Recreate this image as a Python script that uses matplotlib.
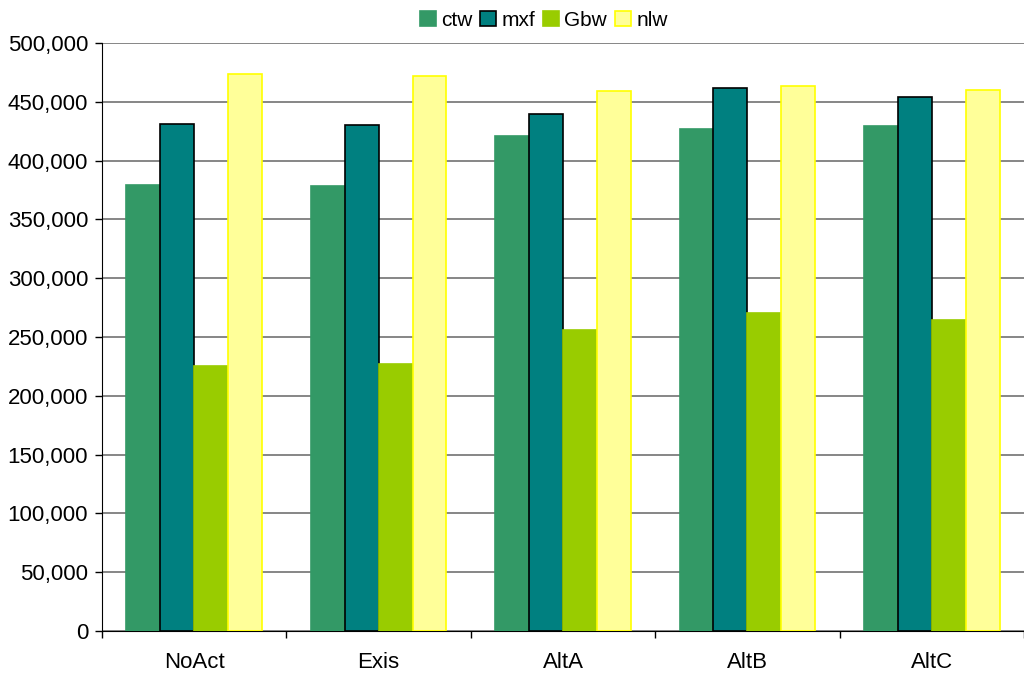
import matplotlib
matplotlib.use("Agg")
import matplotlib.pyplot as plt
import numpy as np
from matplotlib.ticker import FuncFormatter, FixedLocator

plt.rcParams['font.family'] = ['Liberation Sans', 'DejaVu Sans']

# Datos
categorias = ["NoAct", "Exis", "AltA", "AltB", "AltC"]
ctw = [379300, 378400, 420900, 426900, 429400]
mxf = [431100, 430300, 439600, 461700, 454000]
gbw = [225300, 227000, 256000, 270400, 264500]
nlw = [473600, 472000, 459000, 463400, 460000]

series = [
    ("ctw", ctw, "#339966", "#339966"),
    ("mxf", mxf, "#008080", "#000000"),
    ("Gbw", gbw, "#99CC00", "#99CC00"),
    ("nlw", nlw, "#FFFF99", "#FFFF00"),
]

fig = plt.figure(figsize=(10.24, 6.75), dpi=100)
ax = fig.add_axes([102 / 1024, 1 - 631 / 675, 922 / 1024, 588 / 675])

x = np.arange(len(categorias))
ancho = 0.184
for i, (nombre, vals, color, borde) in enumerate(series):
    ax.bar(x + (i - 1.5) * ancho, vals, width=ancho, color=color,
           edgecolor=borde, linewidth=1.2, label=nombre, zorder=3)

ax.set_ylim(0, 500000)
ax.set_xlim(-0.5, -0.5 + 922 / 185.6)
ax.yaxis.set_major_locator(FixedLocator(np.arange(0, 500001, 50000)))
ax.yaxis.set_major_formatter(FuncFormatter(lambda v, p: f"{int(v):,}"))
ax.grid(axis="y", color="#666666", linewidth=1.1, zorder=0)

ax.set_xticks(x)
ax.set_xticklabels(categorias, fontsize=16)
ax.set_xticks(np.arange(-0.5, 5.0, 1), minor=True)
ax.tick_params(axis="x", which="major", length=0, pad=15)
ax.tick_params(axis="x", which="minor", length=5, width=1, direction="out")
ax.tick_params(axis="y", labelsize=16, length=5, width=1, direction="out", pad=5)

for lado in ["top", "right"]:
    ax.spines[lado].set_visible(False)
ax.spines["left"].set_color("black")
ax.spines["bottom"].set_color("black")

fig.legend(loc="upper center", bbox_to_anchor=(0.531, 1.012), ncol=4,
           frameon=False, fontsize=15, handlelength=0.75, handleheight=0.75,
           handletextpad=0.25, columnspacing=0.4)

fig.savefig("out.png", dpi=100)
